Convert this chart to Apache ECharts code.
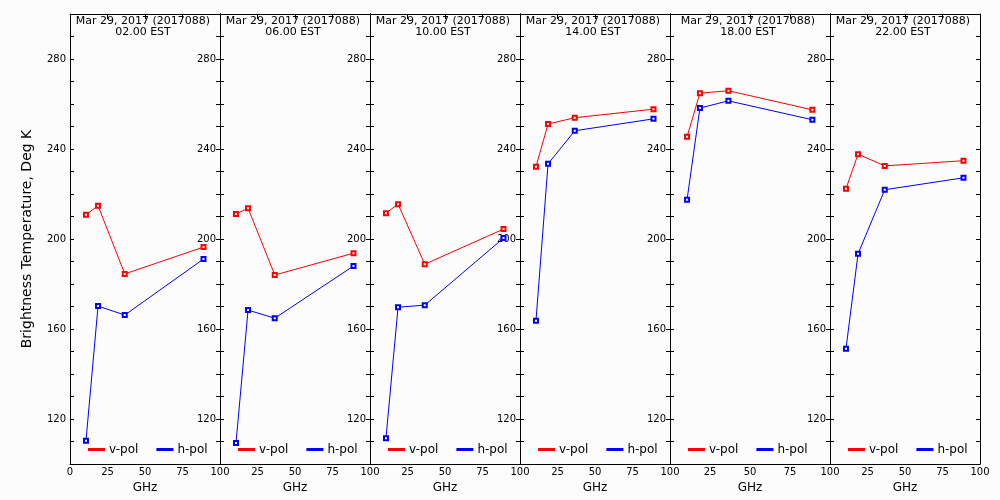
<!DOCTYPE html>
<html><head><meta charset="utf-8">
<script src="https://cdn.jsdelivr.net/npm/echarts@6/dist/echarts.min.js"></script>
<style>html,body{margin:0;padding:0;background:#fcfcfc}#c{width:1000px;height:500px}</style>
</head><body><div id="c"></div>
<script>
// ---- data ----
const dateLabel = 'Mar 29, 2017 (2017088)';
const timeLabels = ['02.00 EST', '06.00 EST', '10.00 EST', '14.00 EST', '18.00 EST', '22.00 EST'];
const freqGHz = [10.65, 18.7, 36.5, 89.0];
const vpol02 = [210.8, 214.8, 184.5, 196.4];
const hpol02 = [110.3, 170.2, 166.2, 191.1];
const vpol06 = [211.1, 213.7, 184.0, 193.7];
const hpol06 = [109.3, 168.4, 164.8, 188.0];
const vpol10 = [211.5, 215.5, 188.8, 204.4];
const hpol10 = [111.5, 169.7, 170.6, 200.4];
const vpol14 = [232.1, 251.1, 253.9, 257.7];
const hpol14 = [163.7, 233.4, 248.1, 253.4];
const vpol18 = [245.4, 264.8, 265.9, 257.4];
const hpol18 = [217.4, 258.2, 261.4, 253.0];
const vpol22 = [222.3, 237.7, 232.5, 234.8];
const hpol22 = [151.2, 193.4, 221.9, 227.2];
const yTickLabels = [120, 160, 200, 240, 280];
const xTickLabels = [0, 25, 50, 75, 100];
const seriesNames = ['v-pol', 'h-pol'];
const yTitle = 'Brightness Temperature, Deg K';
const xTitle = 'GHz';

// ---- layout / style ----
const vAll = [vpol02, vpol06, vpol10, vpol14, vpol18, vpol22];
const hAll = [hpol02, hpol06, hpol10, hpol14, hpol18, hpol22];
const panelLeft = [70, 220, 370, 520, 670, 830];
const panelWidth = [150, 150, 150, 150, 160, 150];
const TOP = 14, HEIGHT = 450;
const FONT = 'DejaVu Sans';
const COLORS = ['#ff0000', '#0000ff'];
const BLACK = '#000';

const grid = [], xAxis = [], yAxis = [], series = [], title = [], legend = [];
for (let i = 0; i < 6; i++) {
  grid.push({left: panelLeft[i], top: TOP, width: panelWidth[i], height: HEIGHT, containLabel: false});
  // bottom x axis
  xAxis.push({
    type: 'value', gridIndex: i, position: 'bottom', min: 0, max: 100, interval: 25,
    axisLine: {show: true, onZero: false, lineStyle: {color: BLACK, width: 1}},
    axisTick: {show: false}, splitLine: {show: false},
    axisLabel: {show: true, showMinLabel: i === 0, color: BLACK, fontFamily: FONT, fontSize: 10, margin: 3,
      formatter: v => xTickLabels.includes(v) ? String(v) : ''},
    name: xTitle, nameLocation: 'middle', nameGap: 17,
    nameTextStyle: {color: BLACK, fontFamily: FONT, fontSize: 12}
  });
  // top x axis (ticks only, pointing into the plot)
  xAxis.push({
    type: 'value', gridIndex: i, position: 'top', min: 0, max: 100, interval: 25,
    axisLine: {show: true, onZero: false, lineStyle: {color: BLACK, width: 1}},
    axisTick: {show: true, inside: false, length: -5, lineStyle: {color: BLACK}},
    axisLabel: {show: false}, splitLine: {show: false}
  });
  // left y axis
  const ly = {
    type: 'value', gridIndex: i, position: 'left', min: 100, max: 300, interval: 10,
    axisLine: {show: true, onZero: false, lineStyle: {color: BLACK, width: 1}},
    axisTick: {show: true, inside: false, length: -4, lineStyle: {color: BLACK}},
    splitLine: {show: false},
    axisLabel: {show: true, color: BLACK, fontFamily: FONT, fontSize: 10, margin: 4,
      formatter: v => yTickLabels.includes(v) ? String(v) : ''}
  };
  if (i === 0) {
    ly.name = yTitle; ly.nameLocation = 'middle'; ly.nameGap = 36; ly.nameRotate = 90;
    ly.nameTextStyle = {color: BLACK, fontFamily: FONT, fontSize: 14};
  }
  yAxis.push(ly);
  // right y axis (ticks only, pointing into the plot)
  yAxis.push({
    type: 'value', gridIndex: i, position: 'right', min: 100, max: 300, interval: 10,
    axisLine: {show: true, onZero: false, lineStyle: {color: BLACK, width: 1}},
    axisTick: {show: true, inside: false, length: -4, lineStyle: {color: BLACK}},
    axisLabel: {show: false}, splitLine: {show: false}
  });
  const lists = [vAll[i], hAll[i]];
  for (let s = 0; s < 2; s++) {
    series.push({
      type: 'line', name: seriesNames[s], xAxisIndex: 2 * i, yAxisIndex: 2 * i,
      data: freqGHz.map((f, k) => [f, lists[s][k]]),
      symbol: 'emptyRect', symbolSize: 4, showAllSymbol: true,
      lineStyle: {color: COLORS[s], width: 1},
      itemStyle: {color: COLORS[s], borderColor: COLORS[s], borderWidth: 1},
      animation: false, silent: true
    });
  }
  const cx = panelLeft[i] + panelWidth[i] / 2 - 2;
  title.push({
    text: dateLabel + '\n' + timeLabels[i], left: cx, top: TOP + 1, textAlign: 'center', padding: 0,
    textStyle: {color: BLACK, fontFamily: FONT, fontSize: 11, fontWeight: 'normal', lineHeight: 11.5}
  });
  legend.push({
    left: panelLeft[i] + 18, top: 443.5, padding: 0, itemGap: 18, itemWidth: 15, itemHeight: 1,
    icon: 'rect', selectedMode: false,
    textStyle: {color: BLACK, fontFamily: FONT, fontSize: 12, padding: [0, 0, 0, 0]},
    data: seriesNames.map((n, s) => ({name: n, itemStyle: {color: COLORS[s]}}))
  });
}

const chart = echarts.init(document.getElementById('c'), null, {renderer: 'canvas'});
chart.setOption({
  backgroundColor: '#fcfcfc', animation: false,
  grid, xAxis, yAxis, series, title, legend
});
</script></body></html>
